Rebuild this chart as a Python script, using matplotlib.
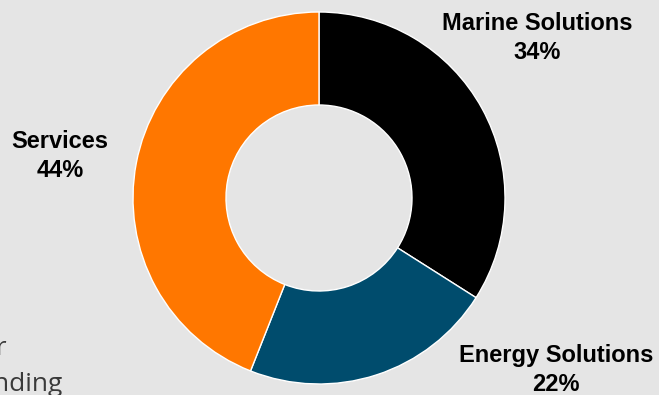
import matplotlib.pyplot as plt

# Revenue split by segment
segments = ["Marine Solutions", "Energy Solutions", "Services"]
shares = [34, 22, 44]
colors = ["#000000", "#004C6D", "#FF7700"]

W, H = 659, 395
fig = plt.figure(figsize=(W / 100, H / 100), dpi=100)
fig.patch.set_facecolor("#E5E5E5")

# donut centred at (319, 198) px, outer radius 186 px
cx, cy, r = 319, 198, 186
ax = fig.add_axes([(cx - r) / W, (H - cy - r) / H, 2 * r / W, 2 * r / H])
ax.pie(shares, colors=colors, startangle=90, counterclock=False,
       wedgeprops=dict(width=0.5, edgecolor="white", linewidth=1))
ax.set_xlim(-1, 1)
ax.set_ylim(-1, 1)
ax.set_aspect("equal")
ax.axis("off")

lab_font = dict(family="Liberation Sans", fontweight="bold", fontsize=17,
                ha="center", va="center", linespacing=1.3)
label_pos = {"Marine Solutions": (537, 38),
             "Energy Solutions": (556, 370),
             "Services": (60, 156)}
for name, pct in zip(segments, shares):
    px, py = label_pos[name]
    fig.text(px / W, 1 - py / H, f"{name}\n{pct}%", **lab_font)

# cut-off note at the left edge (clipped in the original too)
fig.text(7 / W, 1 - 355 / H, "order", family="Open Sans", fontsize=19,
         color="#3A3A3A", ha="right", va="baseline")
fig.text(63 / W, 1 - 391 / H, "outstanding", family="Open Sans", fontsize=19,
         color="#3A3A3A", ha="right", va="baseline")

fig.savefig("out.png", dpi=100, facecolor=fig.get_facecolor())
